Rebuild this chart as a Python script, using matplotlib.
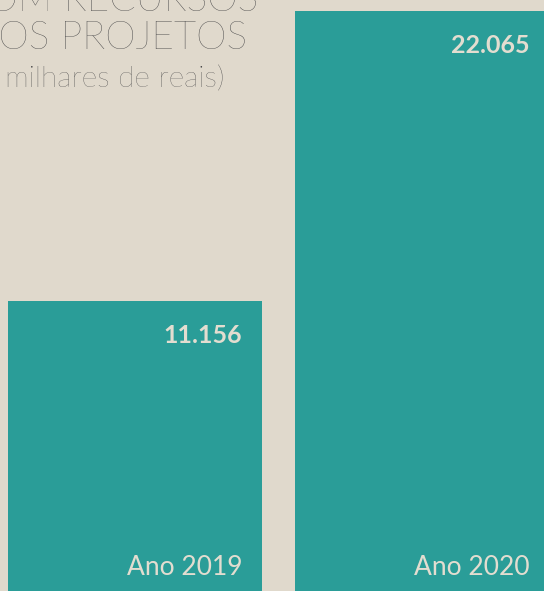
import matplotlib.pyplot as plt

# Data
anos = ["Ano 2019", "Ano 2020"]
valores = [11156, 22065]
rotulos = ["11.156", "22.065"]

bg = "#e0d9cc"
teal = "#2a9d98"
light = "#e3ddd0"
grey = "#3c3c3e"

W, H = 544, 591
fig = plt.figure(figsize=(W / 100, H / 100), dpi=100, facecolor=bg)
ax = fig.add_axes([0, 0, 1, 1])
ax.set_facecolor(bg)

x = list(range(len(valores)))
ax.bar(x, valores, width=0.885, color=teal, align="center")
ax.set_xlim(-0.470, 1.425)
ax.set_ylim(245, 22479)
ax.axis("off")

half = 0.885 / 2
for xi, v, lab, ano in zip(x, valores, rotulos, anos):
    ax.text(xi + half - 0.068, v - 1300, lab, ha="right", va="center",
            fontsize=18, fontweight="bold", family="Lato", color=light)
    ax.text(xi + half - 0.068, 1120, ano, ha="right", va="center",
            fontsize=19, fontweight="normal", family="Lato", color=light)

# title (cropped at the edges in the original)
fig.text(258, H - 11, "COM RECURSOS", ha="right", va="baseline",
         fontsize=28, fontweight="light", family="Lato", color=grey,
         transform=None)
fig.text(247, H - 49, "DOS PROJETOS", ha="right", va="baseline",
         fontsize=28, fontweight="light", family="Lato", color=grey,
         transform=None)
fig.text(224, H - 87, "(em milhares de reais)", ha="right", va="baseline",
         fontsize=21.5, fontweight="light", family="Lato", color=grey,
         transform=None)

fig.savefig("out.png", dpi=100, facecolor=bg)
